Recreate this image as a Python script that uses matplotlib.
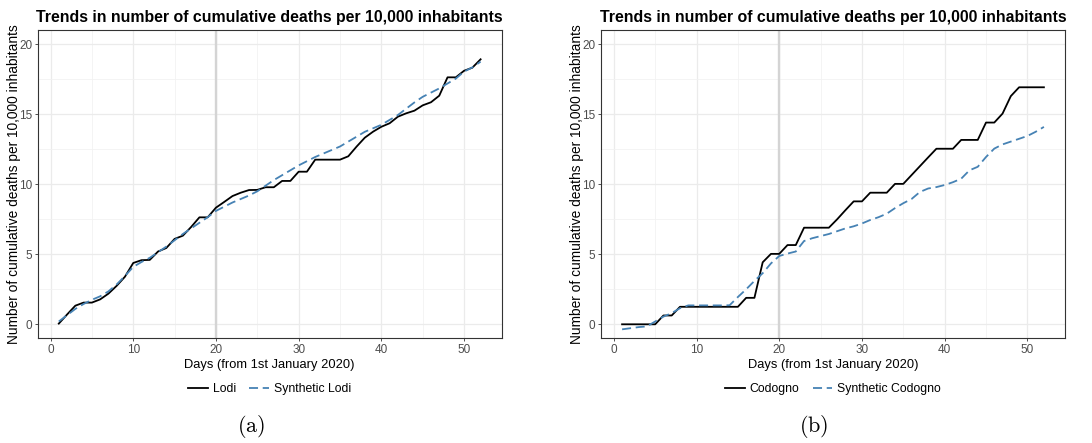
import numpy as np
import matplotlib
matplotlib.use("Agg")
import matplotlib.pyplot as plt
from matplotlib.ticker import MultipleLocator

plt.rcParams['font.family'] = ['Liberation Sans', 'DejaVu Sans']
plt.rcParams['mathtext.fontset'] = 'cm'

days = list(range(1, 53))

lodi = [0.05, 0.7, 1.33, 1.55, 1.55, 1.78, 2.19, 2.75, 3.4, 4.38,
        4.58, 4.6, 5.2, 5.45, 6.1, 6.33, 6.95, 7.64, 7.64, 8.33,
        8.74, 9.16, 9.4, 9.59, 9.6, 9.79, 9.79, 10.24, 10.24, 10.9,
        10.9, 11.76, 11.76, 11.76, 11.76, 12.0, 12.69, 13.33, 13.76, 14.11,
        14.36, 14.83, 15.07, 15.26, 15.64, 15.86, 16.33, 17.64, 17.64, 18.11,
        18.33, 18.93]
synthetic_lodi = [0.2, 0.65, 1.1, 1.45, 1.75, 2.0, 2.35, 2.85, 3.45, 4.1,
                  4.45, 4.75, 5.15, 5.55, 6.0, 6.45, 6.85, 7.25, 7.65, 8.1,
                  8.4, 8.7, 8.95, 9.2, 9.5, 9.9, 10.3, 10.65, 11.0, 11.35,
                  11.65, 11.95, 12.2, 12.45, 12.7, 13.05, 13.4, 13.75, 14.0, 14.25,
                  14.6, 14.95, 15.4, 15.85, 16.25, 16.55, 16.85, 17.2, 17.55, 18.05,
                  18.35, 18.76]

codogno = [0, 0, 0, 0, 0, 0.63, 0.63, 1.25, 1.25, 1.25,
           1.25, 1.25, 1.25, 1.25, 1.25, 1.89, 1.89, 4.43, 5.03, 5.03,
           5.66, 5.66, 6.9, 6.9, 6.9, 6.9, 7.5, 8.15, 8.78, 8.78,
           9.4, 9.4, 9.4, 10.03, 10.03, 10.66, 11.29, 11.92, 12.54, 12.54,
           12.54, 13.17, 13.17, 13.17, 14.41, 14.41, 15.05, 16.3, 16.93, 16.93,
           16.93, 16.93]
synthetic_codogno = [-0.36, -0.28, -0.2, -0.15, 0.2, 0.55, 0.8, 1.15, 1.35, 1.35,
                     1.35, 1.35, 1.35, 1.36, 1.95, 2.5, 3.1, 3.65, 4.35, 4.88,
                     5.05, 5.2, 5.95, 6.15, 6.3, 6.45, 6.65, 6.85, 7.0, 7.2,
                     7.45, 7.65, 7.9, 8.3, 8.65, 8.95, 9.45, 9.7, 9.8, 9.95,
                     10.15, 10.4, 11.0, 11.25, 11.95, 12.55, 12.85, 13.05, 13.25, 13.45,
                     13.75, 14.1]

panels = [
    ("Lodi", lodi, "Synthetic Lodi", synthetic_lodi, "(a)"),
    ("Codogno", codogno, "Synthetic Codogno", synthetic_codogno, "(b)"),
]

title = "Trends in number of cumulative deaths per 10,000 inhabitants"
treatment_day = 20

W, H = 1092, 443
fig = plt.figure(figsize=(W / 100, H / 100), dpi=100)

axes_left_px = [37.7, 601.0]
caption_x_px = [251, 814]
ax_w = 464 / W
ax_h = 308 / H
ax_b = (H - 338.3) / H

for i, (name, actual, syn_name, synthetic, cap) in enumerate(panels):
    ax = fig.add_axes([axes_left_px[i] / W, ax_b, ax_w, ax_h])
    ax.set_xlim(-1.55, 54.55)
    ax.set_ylim(-1.0, 21.0)
    ax.xaxis.set_major_locator(MultipleLocator(10))
    ax.xaxis.set_minor_locator(MultipleLocator(5))
    ax.yaxis.set_major_locator(MultipleLocator(5))
    ax.yaxis.set_minor_locator(MultipleLocator(2.5))
    ax.grid(which='major', color='#ebebeb', lw=0.9)
    ax.grid(which='minor', color='#f2f2f2', lw=0.6)
    ax.set_axisbelow(True)
    ax.tick_params(which='minor', length=0)
    ax.tick_params(which='major', length=2.5, width=0.6, color='#333333',
                   labelsize=8.5, labelcolor='#4d4d4d', pad=1.5)
    for s in ax.spines.values():
        s.set_color('#333333')
        s.set_linewidth(0.8)

    ax.axvline(treatment_day, color='#d4d4d4', lw=1.7, zorder=1.5)
    ax.plot(days, actual, color='black', lw=1.3, label=name, zorder=3)
    ax.plot(days, synthetic, color='#4682B4', lw=1.3, dashes=(5, 2.6),
            label=syn_name, zorder=3)

    ax.set_title(title, fontsize=11.4, fontweight='bold', pad=6)
    ax.set_xlabel("Days (from 1st January 2020)", fontsize=9.3, labelpad=2)
    ax.set_ylabel("Number of cumulative deaths per 10,000 inhabitants",
                  fontsize=9.9)
    ax.yaxis.set_label_coords(-0.036, 0.5)
    ax.legend(loc='center', bbox_to_anchor=(0.5, -0.164), ncol=2,
              frameon=False, fontsize=8.8, handlelength=1.6,
              handletextpad=0.4, columnspacing=1.1)

    fig.text(caption_x_px[i] / W, (H - 427) / H, r'$\mathrm{' + cap + '}$',
             ha='center', va='center', fontsize=16)

fig.savefig("out.png", dpi=100)
